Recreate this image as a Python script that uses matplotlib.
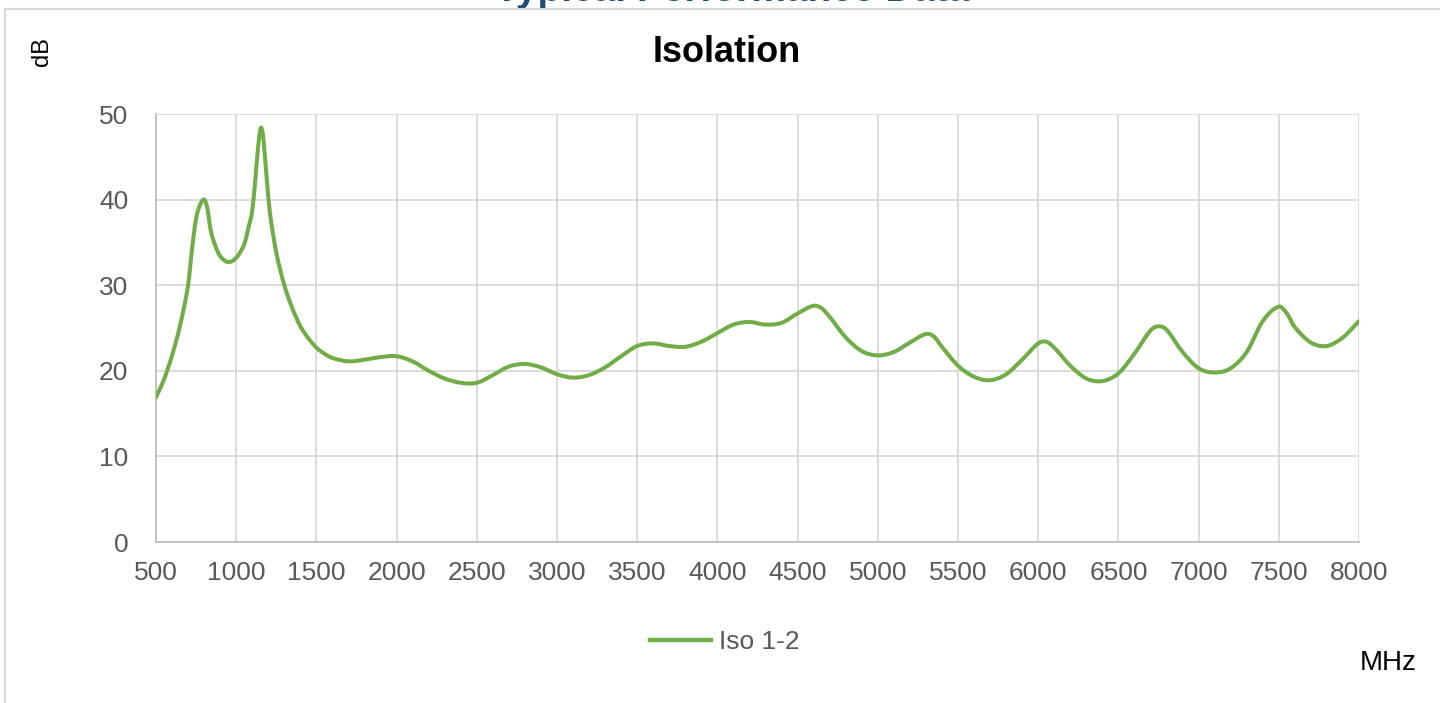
import matplotlib
matplotlib.use("Agg")
import matplotlib.pyplot as plt
from matplotlib import font_manager
from matplotlib.patches import Rectangle, PathPatch
from matplotlib.path import Path
from matplotlib.lines import Line2D

# ---------------- data ----------------
freq_mhz = [500, 550, 600, 650, 700, 725, 750, 775, 800, 820, 840, 870, 900, 950,
            1000, 1050, 1080, 1100, 1120, 1140, 1155, 1170, 1190, 1210, 1250, 1300,
            1350, 1400, 1450, 1500, 1550, 1600, 1700, 1800, 1900, 2000, 2100, 2200,
            2300, 2400, 2500, 2600, 2700, 2800, 2900, 3000, 3100, 3200, 3300, 3400,
            3500, 3600, 3700, 3800, 3900, 4000, 4100, 4200, 4300, 4400, 4500, 4600,
            4650, 4700, 4800, 4900, 5000, 5100, 5200, 5300, 5350, 5400, 5500, 5600,
            5700, 5800, 5900, 6000, 6050, 6100, 6200, 6300, 6400, 6500, 6600, 6700,
            6750, 6800, 6900, 7000, 7100, 7200, 7300, 7400, 7500, 7550, 7600, 7700,
            7800, 7900, 8000]
iso_12 = [16.9, 19.0, 21.8, 25.3, 30.0, 34.3, 37.8, 39.4, 40.0, 39.0, 36.5, 34.6, 33.4, 32.7,
          33.2, 34.8, 37.0, 38.7, 42.5, 46.8, 48.4, 47.0, 42.5, 38.5, 33.8, 30.0,
          27.3, 25.2, 23.8, 22.7, 22.0, 21.5, 21.1, 21.3, 21.6, 21.7, 21.1, 20.0,
          19.1, 18.6, 18.6, 19.5, 20.5, 20.8, 20.4, 19.6, 19.2, 19.5, 20.4, 21.7,
          22.9, 23.2, 22.9, 22.8, 23.4, 24.4, 25.4, 25.7, 25.4, 25.6, 26.7, 27.6,
          27.3, 26.3, 23.9, 22.3, 21.8, 22.2, 23.3, 24.3, 24.0, 22.8, 20.6, 19.3,
          18.9, 19.6, 21.3, 23.2, 23.4, 22.7, 20.6, 19.1, 18.8, 19.7, 22.0, 24.7,
          25.2, 24.8, 22.2, 20.3, 19.8, 20.3, 22.2, 25.8, 27.5, 26.7, 25.1, 23.3,
          22.9, 23.9, 25.8]
series_name = "Iso 1-2"
x_ticks = [500, 1000, 1500, 2000, 2500, 3000, 3500, 4000, 4500, 5000, 5500, 6000, 6500, 7000, 7500, 8000]
y_ticks = [0, 10, 20, 30, 40, 50]
title = "Isolation"
y_unit = "dB"
x_unit = "MHz"
top_banner = "Typical Performance Data"

LINE_COLOR = "#70AD47"

# ---------------- fonts ----------------
available = {f.name for f in font_manager.fontManager.ttflist}
narrow = "Liberation Sans Narrow" if "Liberation Sans Narrow" in available else "Liberation Sans"
plt.rcParams['font.family'] = [narrow, 'DejaVu Sans']

W, H = 1440, 703
fig = plt.figure(figsize=(W / 100, H / 100), dpi=100)
fig.patch.set_facecolor("white")

# chart frame (light gray border, partially cropped)
frame = Rectangle((5 / W, -0.05), 1.2, 1 - 9 / H + 0.05, transform=fig.transFigure,
                  facecolor="none", edgecolor="#D9D9D9", linewidth=1.5, zorder=-5)
fig.add_artist(frame)

# cropped blue banner text at the very top (only its lowest part is visible)
fig.text(732 / W, 1 - 1 / H, top_banner, ha="center", va="baseline", fontsize=28,
         fontweight="bold", color="#1F4E79", family=["Liberation Sans", "DejaVu Sans"],
         zorder=-6)

left, right = 156 / W, 1359 / W
bottom, top = 1 - 542 / H, 1 - 114 / H
ax = fig.add_axes([left, bottom, right - left, top - bottom])
ax.set_facecolor("none")

# smoothed line (Excel-style "smoothed line": Catmull-Rom -> cubic Bezier through the data points)
verts = [(freq_mhz[0], iso_12[0])]
codes = [Path.MOVETO]
n = len(freq_mhz)
for i in range(n - 1):
    x0, y0 = freq_mhz[max(i - 1, 0)], iso_12[max(i - 1, 0)]
    x1, y1 = freq_mhz[i], iso_12[i]
    x2, y2 = freq_mhz[i + 1], iso_12[i + 1]
    x3, y3 = freq_mhz[min(i + 2, n - 1)], iso_12[min(i + 2, n - 1)]
    h = x2 - x1
    s1 = h / (x2 - x0) if x2 != x0 else 0.5
    s2 = h / (x3 - x1) if x3 != x1 else 0.5
    c1 = (x1 + (x2 - x0) * s1 / 3, y1 + (y2 - y0) * s1 / 3)
    c2 = (x2 - (x3 - x1) * s2 / 3, y2 - (y3 - y1) * s2 / 3)
    verts += [c1, c2, (x2, y2)]
    codes += [Path.CURVE4, Path.CURVE4, Path.CURVE4]
curve = PathPatch(Path(verts, codes), facecolor="none", edgecolor=LINE_COLOR,
                  linewidth=2.9, joinstyle="round", capstyle="round", zorder=3,
                  transform=ax.transData)
ax.add_patch(curve)

ax.set_xlim(500, 8000)
ax.set_ylim(0, 50)
ax.set_xticks(x_ticks)
ax.set_yticks(y_ticks)
ax.grid(True, color="#D9D9D9", linewidth=1.3)
ax.set_axisbelow(True)
for s in ["top", "right"]:
    ax.spines[s].set_visible(False)
ax.spines["left"].set_color("#BFBFBF")
ax.spines["bottom"].set_color("#BFBFBF")
ax.spines["left"].set_linewidth(1.3)
ax.spines["bottom"].set_linewidth(1.3)
ax.tick_params(axis="both", length=0, labelsize=19, labelcolor="#595959")
ax.tick_params(axis="x", pad=14)
ax.tick_params(axis="y", pad=20)

# title
fig.text(727 / W, 1 - 52 / H, title, ha="center", va="center", fontsize=26,
         fontweight="bold", color="black")

# unit labels
fig.text(42 / W, 1 - 52 / H, y_unit, ha="center", va="center", rotation=90, fontsize=17,
         color="black", family=["Liberation Sans", "DejaVu Sans"])
fig.text(1388 / W, 1 - 663 / H, x_unit, ha="center", va="center", fontsize=20, color="black")

# legend
handle = Line2D([], [], color=LINE_COLOR, linewidth=3.2)
leg = fig.legend([handle], [series_name], loc="center", bbox_to_anchor=(725 / W, 1 - 642 / H),
                 frameon=False, fontsize=19, handlelength=2.3, handletextpad=0.3,
                 labelcolor="#595959")

fig.savefig("out.png", dpi=100, facecolor="white")
